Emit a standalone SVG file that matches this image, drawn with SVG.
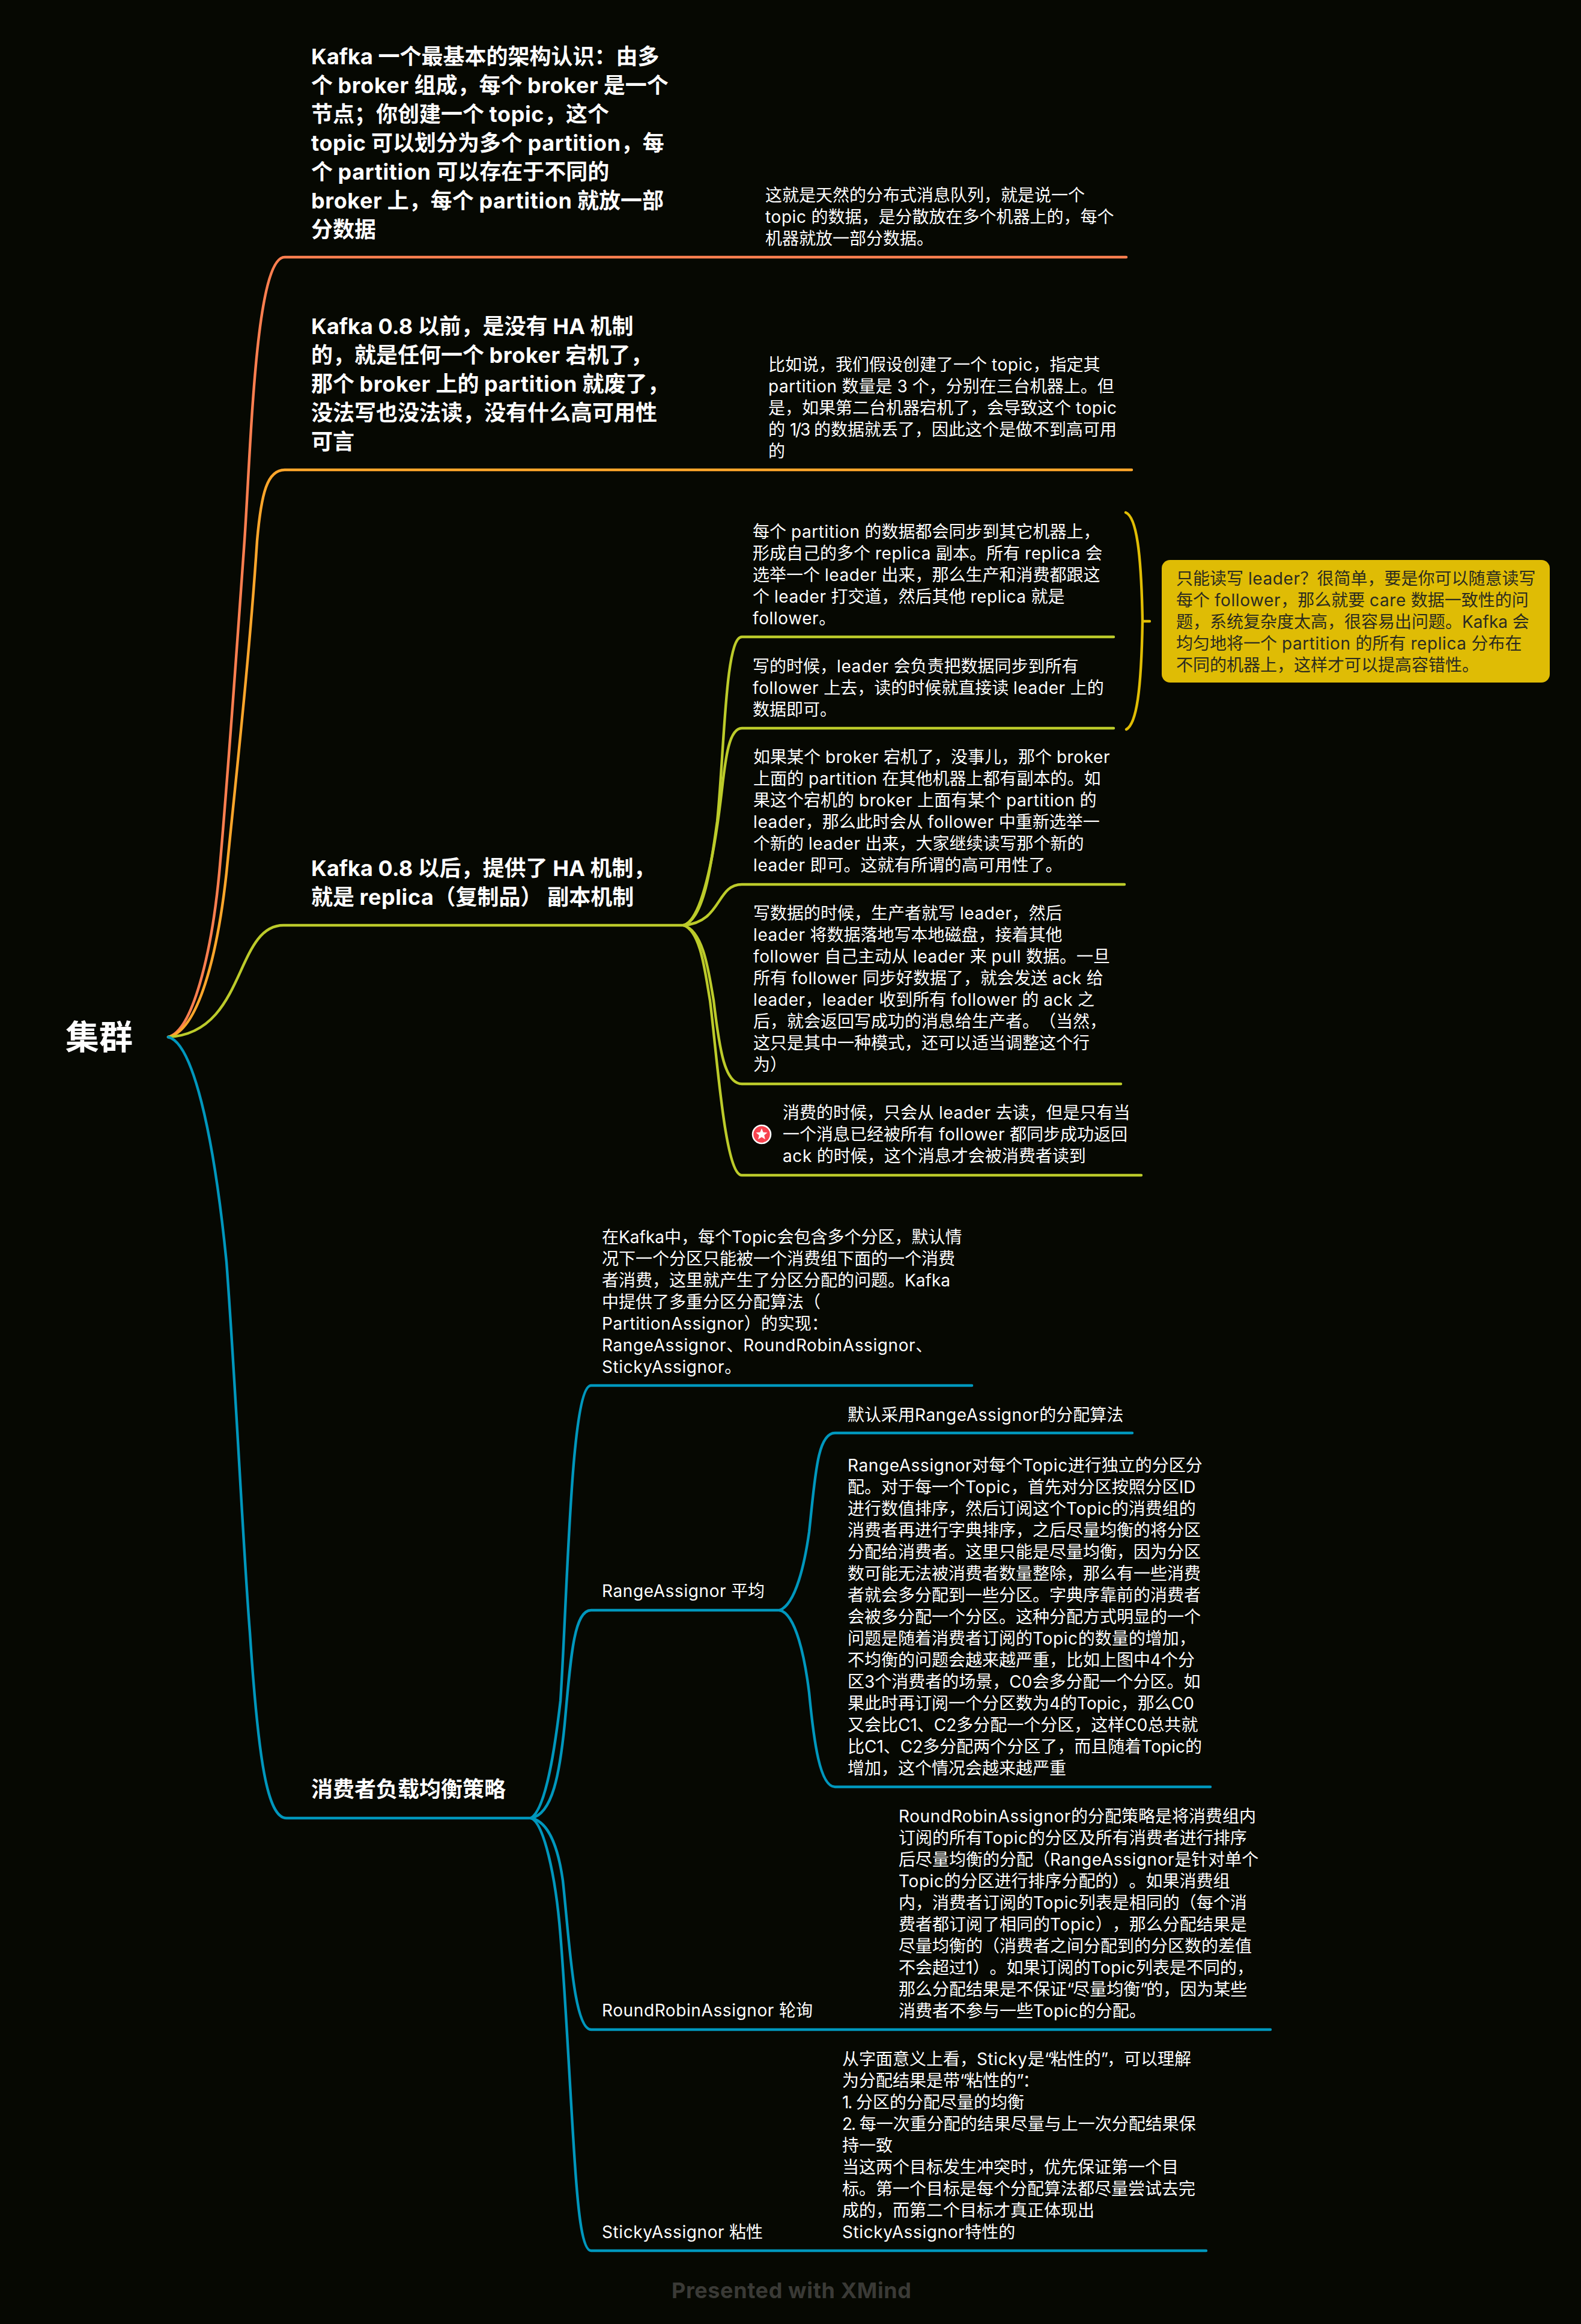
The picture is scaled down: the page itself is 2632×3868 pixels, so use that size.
<svg xmlns="http://www.w3.org/2000/svg" width="2632" height="3868" viewBox="0 0 2632 3868">
<style>
text{font-family:Inter,"Noto Sans CJK SC",sans-serif;fill:#fff;text-spacing-trim:space-all}
.b{font-size:36px;font-weight:700}
.d{font-size:28px;font-weight:400}
.k{fill:#2b2b20}
.l{letter-spacing:.6px}
.n{letter-spacing:-2.2px}
.c{fill:none;stroke-width:4.4;stroke-linecap:round}
.o{stroke:#FF7F50}.a{stroke:#FFA62B}.g{stroke:#BCCB2A}.t{stroke:#0097BD}.y{stroke:#E0BD04}
</style>
<rect width="2632" height="3868" fill="#060802"/>
<g id="connectors">
<path class="c o" d="M280 1726C320 1716 352 1590 365 1453C378 1310 395 1070 407 900C418 740 425 428 474 428H1875"/>
<path class="c a" d="M280 1726C330 1716 362 1590 377 1453C390 1320 415 1100 428 900C435 820 445 782 474 782H1884"/>
<path class="c g" d="M280 1726C410 1720 390 1540 472 1540H1140"/>
<path class="c g" d="M1138 1540C1172 1530 1184 1440 1194 1367C1206 1250 1207 1060 1235 1060H1854"/>
<path class="c g" d="M1138 1540C1172 1530 1192 1400 1202 1313C1208 1260 1214 1212 1235 1212H1854"/>
<path class="c g" d="M1138 1540C1202 1535 1192 1472 1235 1472H1872"/>
<path class="c g" d="M1138 1540C1172 1550 1180 1620 1188 1665C1198 1750 1207 1804 1235 1804H1866"/>
<path class="c g" d="M1138 1540C1167 1550 1174 1620 1182 1665C1194 1760 1207 1956 1235 1956H1900"/>
<path class="c y" d="M1874 853C1892 860 1900 920 1902 1034C1900 1150 1892 1205 1875 1214M1902 1034H1914"/>
<path class="c t" d="M280 1726C320 1735 355 1880 377 2100C392 2300 405 2580 416 2717C430 2930 445 3026 477 3026H888"/>
<path class="c t" d="M884 3026C910 3010 925 2900 933 2831C945 2650 950 2306 984 2306H1618"/>
<path class="c t" d="M884 3026C920 3020 932 2950 940 2870C950 2760 955 2680 984 2680H1298"/>
<path class="c t" d="M884 3026C915 3032 930 3080 937 3130C948 3230 955 3378 984 3378H2115"/>
<path class="c t" d="M884 3026C905 3034 925 3120 933 3221C942 3330 950 3500 957 3600C963 3690 970 3746 984 3746H2008"/>
<path class="c t" d="M1298 2680C1325 2670 1340 2600 1347 2550C1357 2460 1360 2385 1390 2385H1885"/>
<path class="c t" d="M1298 2680C1325 2686 1340 2760 1347 2817C1355 2900 1365 2974 1390 2974H2015"/>
</g>
<g id="root"><text x="109" y="1746" font-size="56" font-weight="700">集群</text></g>
<g id="n1"><text class="b"><tspan x="518" y="107">Kafka 一个最基本的架构认识：由多</tspan><tspan x="518" y="155">个 <tspan class="l">broker</tspan> 组成，每个 <tspan class="l">broker</tspan> 是一个</tspan><tspan x="518" y="203">节点；你创建一个 <tspan class="l">topic</tspan>，这个</tspan><tspan x="518" y="251"><tspan class="l">topic</tspan> 可以划分为多个 <tspan class="l">partition</tspan>，每</tspan><tspan x="518" y="299">个 <tspan class="l">partition</tspan> 可以存在于不同的</tspan><tspan x="518" y="347"><tspan class="l">broker</tspan> 上，每个 <tspan class="l">partition</tspan> 就放一部</tspan><tspan x="518" y="395">分数据</tspan></text></g>
<g id="n1a"><text class="d"><tspan x="1274" y="335">这就是天然的分布式消息队列，就是说一个</tspan><tspan x="1274" y="371"><tspan class="l">topic</tspan> 的数据，是分散放在多个机器上的，每个</tspan><tspan x="1274" y="407">机器就放一部分数据。</tspan></text></g>
<g id="n2"><text class="b"><tspan x="518" y="556">Kafka 0.8 以前，是没有 HA 机制</tspan><tspan x="518" y="604">的，就是任何一个 <tspan class="l">broker</tspan> 宕机了，</tspan><tspan x="518" y="652">那个 <tspan class="l">broker</tspan> 上的 <tspan class="l">partition</tspan> 就废了，</tspan><tspan x="518" y="700">没法写也没法读，没有什么高可用性</tspan><tspan x="518" y="748">可言</tspan></text></g>
<g id="n2a"><text class="d"><tspan x="1279" y="617">比如说，我们假设创建了一个 <tspan class="l">topic</tspan>，指定其</tspan><tspan x="1279" y="653"><tspan class="l">partition</tspan> 数量是 3 个，分别在三台机器上。但</tspan><tspan x="1279" y="689">是，如果第二台机器宕机了，会导致这个 <tspan class="l">topic</tspan></tspan><tspan x="1279" y="725">的 <tspan class="n">1/3</tspan> 的数据就丢了，因此这个是做不到高可用</tspan><tspan x="1279" y="761">的</tspan></text></g>
<g id="n3"><text class="b"><tspan x="518" y="1458">Kafka 0.8 以后，提供了 HA 机制，</tspan><tspan x="518" y="1506">就是 <tspan class="l">replica</tspan>（复制品） 副本机制</tspan></text></g>
<g id="n3a"><text class="d"><tspan x="1253" y="895">每个 <tspan class="l">partition</tspan> 的数据都会同步到其它机器上，</tspan><tspan x="1253" y="931">形成自己的多个 <tspan class="l">replica</tspan> 副本。所有 <tspan class="l">replica</tspan> 会</tspan><tspan x="1253" y="967">选举一个 <tspan class="l">leader</tspan> 出来，那么生产和消费都跟这</tspan><tspan x="1253" y="1003">个 <tspan class="l">leader</tspan> 打交道，然后其他 <tspan class="l">replica</tspan> 就是</tspan><tspan x="1253" y="1039"><tspan class="l">follower</tspan>。</tspan></text></g>
<g id="n3b"><text class="d"><tspan x="1253" y="1119">写的时候，<tspan class="l">leader</tspan> 会负责把数据同步到所有</tspan><tspan x="1253" y="1155"><tspan class="l">follower</tspan> 上去，读的时候就直接读 <tspan class="l">leader</tspan> 上的</tspan><tspan x="1253" y="1191">数据即可。</tspan></text></g>
<g id="n3c"><text class="d"><tspan x="1254" y="1270">如果某个 <tspan class="l">broker</tspan> 宕机了，没事儿，那个 <tspan class="l">broker</tspan></tspan><tspan x="1254" y="1306">上面的 <tspan class="l">partition</tspan> 在其他机器上都有副本的。如</tspan><tspan x="1254" y="1342">果这个宕机的 <tspan class="l">broker</tspan> 上面有某个 <tspan class="l">partition</tspan> 的</tspan><tspan x="1254" y="1378"><tspan class="l">leader</tspan>，那么此时会从 <tspan class="l">follower</tspan> 中重新选举一</tspan><tspan x="1254" y="1414">个新的 <tspan class="l">leader</tspan> 出来，大家继续读写那个新的</tspan><tspan x="1254" y="1450"><tspan class="l">leader</tspan> 即可。这就有所谓的高可用性了。</tspan></text></g>
<g id="n3d"><text class="d"><tspan x="1254" y="1530">写数据的时候，生产者就写 <tspan class="l">leader</tspan>，然后</tspan><tspan x="1254" y="1566"><tspan class="l">leader</tspan> 将数据落地写本地磁盘，接着其他</tspan><tspan x="1254" y="1602"><tspan class="l">follower</tspan> 自己主动从 <tspan class="l">leader</tspan> 来 <tspan class="l">pull</tspan> 数据。一旦</tspan><tspan x="1254" y="1638">所有 <tspan class="l">follower</tspan> 同步好数据了，就会发送 <tspan class="l">ack</tspan> 给</tspan><tspan x="1254" y="1674"><tspan class="l">leader</tspan>，<tspan class="l">leader</tspan> 收到所有 <tspan class="l">follower</tspan> 的 <tspan class="l">ack</tspan> 之</tspan><tspan x="1254" y="1710">后，就会返回写成功的消息给生产者。（当然，</tspan><tspan x="1254" y="1746">这只是其中一种模式，还可以适当调整这个行</tspan><tspan x="1254" y="1782">为）</tspan></text></g>
<g id="n3e"><circle cx="1268" cy="1888" r="15" fill="#F8434F" stroke="#fff" stroke-width="2.5"/><polygon points="1268,1878 1270.6,1884.6 1277.5,1885 1272.2,1889.4 1273.9,1896.2 1268,1892.5 1262.1,1896.2 1263.8,1889.4 1258.5,1885 1265.4,1884.6" fill="#fff"/><text class="d"><tspan x="1303" y="1862">消费的时候，只会从 <tspan class="l">leader</tspan> 去读，但是只有当</tspan><tspan x="1303" y="1898">一个消息已经被所有 <tspan class="l">follower</tspan> 都同步成功返回</tspan><tspan x="1303" y="1934"><tspan class="l">ack</tspan> 的时候，这个消息才会被消费者读到</tspan></text></g>
<g id="callout"><rect x="1934" y="932" width="646" height="204" rx="14" fill="#DFBC05"/><text class="d k"><tspan x="1958" y="973">只能读写 <tspan class="l">leader</tspan>？很简单，要是你可以随意读写</tspan><tspan x="1958" y="1009">每个 <tspan class="l">follower</tspan>，那么就要 <tspan class="l">care</tspan> 数据一致性的问</tspan><tspan x="1958" y="1045">题，系统复杂度太高，很容易出问题。Kafka 会</tspan><tspan x="1958" y="1081">均匀地将一个 <tspan class="l">partition</tspan> 的所有 <tspan class="l">replica</tspan> 分布在</tspan><tspan x="1958" y="1117">不同的机器上，这样才可以提高容错性。</tspan></text></g>
<g id="n4"><text class="b" x="518" y="2991">消费者负载均衡策略</text></g>
<g id="n4a"><text class="d"><tspan x="1002" y="2069">在Kafka中，每个<tspan class="l">Topic</tspan>会包含多个分区，默认情</tspan><tspan x="1002" y="2105">况下一个分区只能被一个消费组下面的一个消费</tspan><tspan x="1002" y="2141">者消费，这里就产生了分区分配的问题。Kafka</tspan><tspan x="1002" y="2177">中提供了多重分区分配算法（</tspan><tspan x="1002" y="2213"><tspan class="l">PartitionAssignor</tspan>）的实现：</tspan><tspan x="1002" y="2249"><tspan class="l">RangeAssignor</tspan>、<tspan class="l">RoundRobinAssignor</tspan>、</tspan><tspan x="1002" y="2285"><tspan class="l">StickyAssignor</tspan>。</tspan></text></g>
<g id="n4b"><text class="d" x="1002" y="2658"><tspan class="l">RangeAssignor</tspan> 平均</text></g>
<g id="n4b1"><text class="d" x="1411" y="2365">默认采用<tspan class="l">RangeAssignor</tspan>的分配算法</text></g>
<g id="n4b2"><text class="d"><tspan x="1411" y="2449"><tspan class="l">RangeAssignor</tspan>对每个<tspan class="l">Topic</tspan>进行独立的分区分</tspan><tspan x="1411" y="2485">配。对于每一个<tspan class="l">Topic</tspan>，首先对分区按照分区ID</tspan><tspan x="1411" y="2521">进行数值排序，然后订阅这个<tspan class="l">Topic</tspan>的消费组的</tspan><tspan x="1411" y="2557">消费者再进行字典排序，之后尽量均衡的将分区</tspan><tspan x="1411" y="2593">分配给消费者。这里只能是尽量均衡，因为分区</tspan><tspan x="1411" y="2629">数可能无法被消费者数量整除，那么有一些消费</tspan><tspan x="1411" y="2665">者就会多分配到一些分区。字典序靠前的消费者</tspan><tspan x="1411" y="2701">会被多分配一个分区。这种分配方式明显的一个</tspan><tspan x="1411" y="2737">问题是随着消费者订阅的<tspan class="l">Topic</tspan>的数量的增加，</tspan><tspan x="1411" y="2773">不均衡的问题会越来越严重，比如上图中4个分</tspan><tspan x="1411" y="2809">区3个消费者的场景，C0会多分配一个分区。如</tspan><tspan x="1411" y="2845">果此时再订阅一个分区数为4的Topic，那么C0</tspan><tspan x="1411" y="2881">又会比C1、C2多分配一个分区，这样C0总共就</tspan><tspan x="1411" y="2917">比C1、C2多分配两个分区了，而且随着Topic的</tspan><tspan x="1411" y="2953">增加，这个情况会越来越严重</tspan></text></g>
<g id="n4c"><text class="d" x="1002" y="3356"><tspan class="l">RoundRobinAssignor</tspan> 轮询</text></g>
<g id="n4c1"><text class="d"><tspan x="1496" y="3033"><tspan class="l">RoundRobinAssignor</tspan>的分配策略是将消费组内</tspan><tspan x="1496" y="3069">订阅的所有<tspan class="l">Topic</tspan>的分区及所有消费者进行排序</tspan><tspan x="1496" y="3105">后尽量均衡的分配（<tspan class="l">RangeAssignor</tspan>是针对单个</tspan><tspan x="1496" y="3141"><tspan class="l">Topic</tspan>的分区进行排序分配的）。如果消费组</tspan><tspan x="1496" y="3177">内，消费者订阅的<tspan class="l">Topic</tspan>列表是相同的（每个消</tspan><tspan x="1496" y="3213">费者都订阅了相同的<tspan class="l">Topic</tspan>），那么分配结果是</tspan><tspan x="1496" y="3249">尽量均衡的（消费者之间分配到的分区数的差值</tspan><tspan x="1496" y="3285">不会超过1）。如果订阅的<tspan class="l">Topic</tspan>列表是不同的，</tspan><tspan x="1496" y="3321">那么分配结果是不保证<tspan class="n">“</tspan>尽量均衡<tspan class="n">”</tspan>的，因为某些</tspan><tspan x="1496" y="3357">消费者不参与一些<tspan class="l">Topic</tspan>的分配。</tspan></text></g>
<g id="n4d"><text class="d" x="1002" y="3725"><tspan class="l">StickyAssignor</tspan> 粘性</text></g>
<g id="n4d1"><text class="d"><tspan x="1402" y="3437">从字面意义上看，<tspan class="l">Sticky</tspan>是<tspan class="n">“</tspan>粘性的<tspan class="n">”</tspan>，可以理解</tspan><tspan x="1402" y="3473">为分配结果是带<tspan class="n">“</tspan>粘性的<tspan class="n">”</tspan>：</tspan><tspan x="1402" y="3509"><tspan class="n">1.</tspan> 分区的分配尽量的均衡</tspan><tspan x="1402" y="3545"><tspan class="n">2.</tspan> 每一次重分配的结果尽量与上一次分配结果保</tspan><tspan x="1402" y="3581">持一致</tspan><tspan x="1402" y="3617">当这两个目标发生冲突时，优先保证第一个目</tspan><tspan x="1402" y="3653">标。第一个目标是每个分配算法都尽量尝试去完</tspan><tspan x="1402" y="3689">成的，而第二个目标才真正体现出</tspan><tspan x="1402" y="3725"><tspan class="l">StickyAssignor</tspan>特性的</tspan></text></g>
<g id="footer"><text class="l" x="1118" y="3825" font-size="36" font-weight="700" style="fill:#3a3a36">Presented with XMind</text></g>
</svg>
